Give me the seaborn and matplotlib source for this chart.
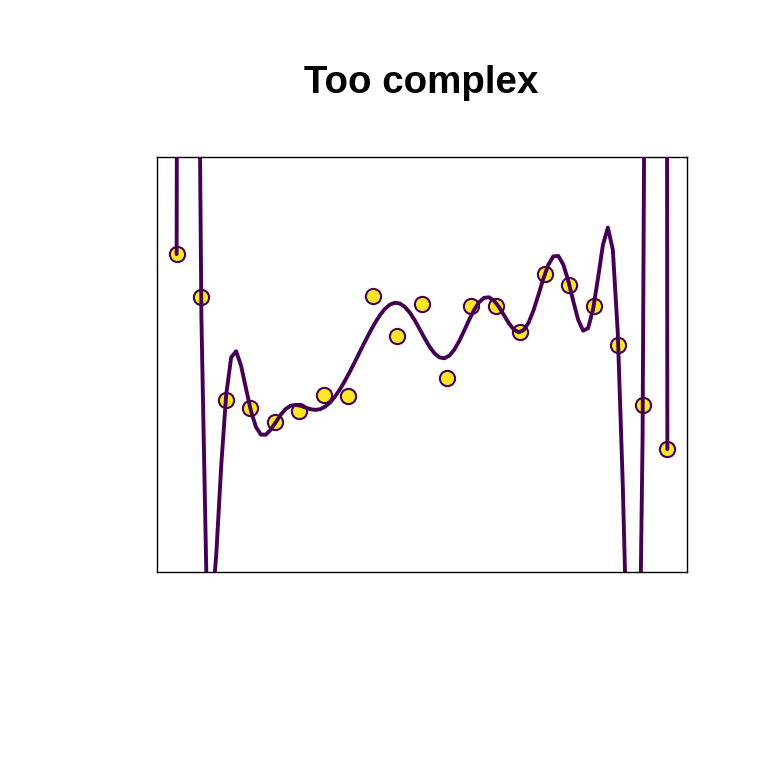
import numpy as np
import pandas as pd
import matplotlib
matplotlib.use("Agg")
import matplotlib.pyplot as plt
import seaborn as sns

# observed points
x_obs = np.arange(1, 22)
y_obs = [3.83, 3.31, 2.07, 1.97, 1.81, 1.94, 2.13, 2.12, 3.32, 2.84, 3.23,
         2.34, 3.21, 3.21, 2.89, 3.59, 3.46, 3.21, 2.73, 2.01, 1.48]
degree = 18

pts = pd.DataFrame({"x": x_obs, "y": y_obs})

# over-fitted polynomial, evaluated on a grid
fit = np.polynomial.Polynomial.fit(pts["x"], pts["y"], degree)
grid = pd.DataFrame({"x": np.linspace(1, 21, 100)})
grid["y"] = fit(grid["x"])

sns.set_style("white")
plt.rcParams["font.family"] = ["Liberation Sans", "DejaVu Sans"]

fig = plt.figure(figsize=(7.68, 7.68), dpi=100)
ax = fig.add_axes([157 / 768, 1 - 572 / 768, 530 / 768, 415 / 768])

sns.scatterplot(data=pts, x="x", y="y", ax=ax, s=120, color="#FDE725",
                edgecolor="#440154", linewidth=1.5, zorder=2)
sns.lineplot(data=grid, x="x", y="y", ax=ax, color="#440154", linewidth=2.8,
             sort=False, zorder=3)

ax.set_xlim(0.2, 21.8)
ax.set_ylim(0, 5)
ax.set_xticks([])
ax.set_yticks([])
ax.set_xlabel("")
ax.set_ylabel("")
for s in ax.spines.values():
    s.set_color("black")
    s.set_linewidth(1.0)

fig.text(421 / 768, 1 - 93 / 768, "Too complex", ha="center", va="baseline",
         fontsize=27.7, fontweight="bold", color="black")

fig.savefig("out.png", dpi=100)
